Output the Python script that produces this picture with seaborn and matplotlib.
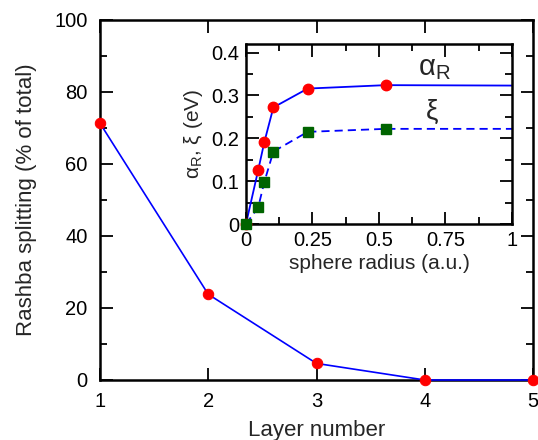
import matplotlib
matplotlib.use("Agg")
import matplotlib.pyplot as plt
import seaborn as sns
import pandas as pd
from matplotlib.ticker import MultipleLocator

# main panel data
layers = [1, 2, 3, 4, 5]
rashba_pct = [71.3, 23.8, 4.6, 0.0, 0.0]

# inset data
radius = [0.0, 0.046, 0.069, 0.103, 0.232, 0.525]
alpha_r = [0.0, 0.126, 0.191, 0.272, 0.316, 0.324]
xi = [0.0, 0.039, 0.098, 0.169, 0.215, 0.222]
# value at the right edge of the inset (line continues, no marker)
radius_end = 1.0
alpha_r_end = 0.323
xi_end = 0.222

sns.set_theme(style="ticks")
plt.rcParams["font.family"] = ["Liberation Sans", "DejaVu Sans"]
plt.rcParams["mathtext.fontset"] = "custom"
plt.rcParams["mathtext.rm"] = "Liberation Sans"
plt.rcParams["mathtext.it"] = "Liberation Sans"


def style_axes(ax, fs, pad):
    for sp in ax.spines.values():
        sp.set_linewidth(1.8)
        sp.set_color("black")
    ax.tick_params(which="both", direction="in", top=True, right=True,
                   colors="black", labelsize=fs, width=1.3)
    ax.tick_params(which="major", length=9, pad=pad)
    ax.tick_params(which="minor", length=5)


fig = plt.figure(figsize=(5.38, 4.40), dpi=100)
ax = fig.add_axes([0.1859, 0.1364, 0.8048, 0.8182])

df_main = pd.DataFrame({"layer": layers, "pct": rashba_pct})
sns.lineplot(data=df_main, x="layer", y="pct", ax=ax, color="blue",
             linewidth=1.2, marker="o", markersize=7.5, markerfacecolor="red",
             markeredgecolor="red", clip_on=False, zorder=5)
ax.set_xlim(1, 5)
ax.set_ylim(0, 100)
ax.xaxis.set_major_locator(MultipleLocator(1))
ax.yaxis.set_major_locator(MultipleLocator(20))
ax.yaxis.set_minor_locator(MultipleLocator(10))
style_axes(ax, 14.5, 9)
ax.set_xlabel("Layer number", fontsize=16, labelpad=6)
ax.set_ylabel("Rashba splitting (% of total)", fontsize=16, labelpad=12)

# inset
ins = fig.add_axes([0.4572, 0.4909, 0.4944, 0.4091])
df_a = pd.DataFrame({"r": radius + [radius_end], "v": alpha_r + [alpha_r_end]})
df_x = pd.DataFrame({"r": radius + [radius_end], "v": xi + [xi_end]})
sns.lineplot(data=df_a, x="r", y="v", ax=ins, color="blue", linewidth=1.3)
sns.lineplot(data=df_x, x="r", y="v", ax=ins, color="blue", linewidth=1.3,
             linestyle=(0, (4.5, 2.8)))
ins.plot(radius, alpha_r, "o", color="red", markersize=7.5, clip_on=False, zorder=5)
ins.plot(radius, xi, "s", color="#006400", markersize=7, clip_on=False, zorder=6)
ins.set_xlim(0, 1)
ins.set_ylim(0, 0.42)
ins.set_xticks([0, 0.25, 0.5, 0.75, 1])
ins.set_xticklabels(["0", "0.25", "0.5", "0.75", "1"])
ins.xaxis.set_minor_locator(MultipleLocator(0.125))
ins.set_yticks([0, 0.1, 0.2, 0.3, 0.4])
ins.set_yticklabels(["0", "0.1", "0.2", "0.3", "0.4"])
ins.yaxis.set_minor_locator(MultipleLocator(0.05))
style_axes(ins, 14.5, 5)
ins.set_xlabel("sphere radius (a.u.)", fontsize=15, labelpad=3)
ins.set_ylabel(r"$\mathrm{\alpha_R}$, ξ (eV)", fontsize=15, labelpad=4)
ins.text(0.71, 0.365, r"$\mathrm{\alpha_R}$", fontsize=21, ha="center", va="center")
ins.text(0.70, 0.262, "ξ", fontsize=20, ha="center", va="center")

fig.savefig("out.png", dpi=100)
